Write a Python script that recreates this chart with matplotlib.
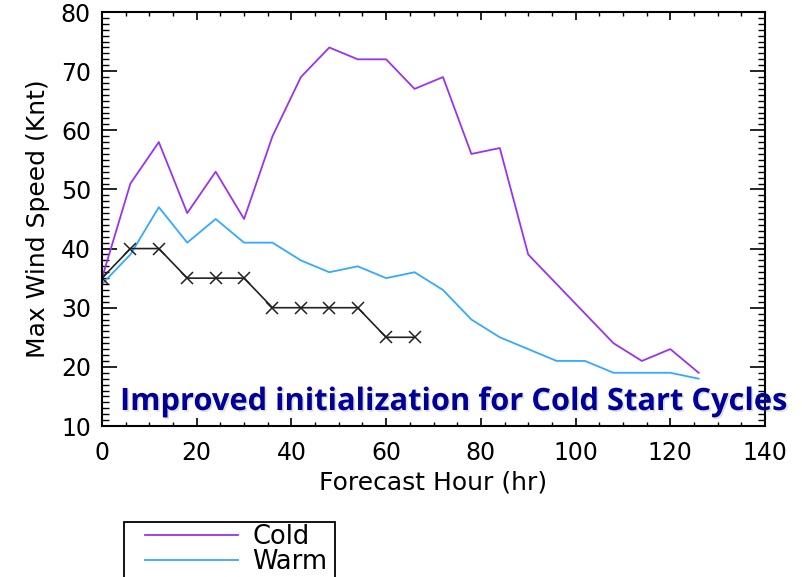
import matplotlib
matplotlib.use('Agg')
import matplotlib.pyplot as plt
import matplotlib.patheffects as pe
from matplotlib.patches import Rectangle
from matplotlib.ticker import MultipleLocator

# forecast hours and max wind speed (knots)
hours = [0, 6, 12, 18, 24, 30, 36, 42, 48, 54, 60, 66, 72, 78, 84, 90, 96, 102, 108, 114, 120, 126]
cold = [35, 51, 58, 46, 53, 45, 59, 69, 74, 72, 72, 67, 69, 56, 57, 39, 34, 29, 24, 21, 23, 19]
warm = [34, 39, 47, 41, 45, 41, 41, 38, 36, 37, 35, 36, 33, 28, 25, 23, 21, 21, 19, 19, 19, 18]
obs_hours = [0, 6, 12, 18, 24, 30, 36, 42, 48, 54, 60, 66]
obs = [35, 40, 40, 35, 35, 35, 30, 30, 30, 30, 25, 25]

plt.rcParams['font.family'] = ['DejaVu Sans']

fig = plt.figure(figsize=(8.02, 5.77), dpi=100)
ax = fig.add_axes([102 / 802, 1 - 426 / 577, 663 / 802, 414 / 577])

l_cold, = ax.plot(hours, cold, color='#9933ee', lw=1.3, label='Cold')
l_warm, = ax.plot(hours, warm, color='#33aaff', lw=1.3, label='Warm')
ax.plot(obs_hours, obs, color='#222222', lw=1.2, marker='x', ms=8, mew=1.1)

ax.set_xlim(0, 140)
ax.set_ylim(10, 80)
ax.xaxis.set_major_locator(MultipleLocator(20))
ax.xaxis.set_minor_locator(MultipleLocator(5))
ax.yaxis.set_major_locator(MultipleLocator(10))
ax.yaxis.set_minor_locator(MultipleLocator(1))
ax.tick_params(axis='both', which='both', direction='in', top=True, right=True, color='black')
ax.tick_params(axis='x', which='major', length=6, width=1.2, pad=11, labelsize=17)
ax.tick_params(axis='x', which='minor', length=3, width=1)
ax.tick_params(axis='y', which='major', length=11, width=1.2, pad=8, labelsize=17)
ax.tick_params(axis='y', which='minor', length=5, width=1)
for s in ax.spines.values():
    s.set_linewidth(1.5)

ax.set_xlabel('Forecast Hour (hr)', fontsize=18, labelpad=4)
ax.set_ylabel('Max Wind Speed (Knt)', fontsize=18, labelpad=8)

# overlay annotation
fig.text(120 / 802, 1 - 410 / 577, 'Improved initialization for Cold Start Cycles',
         family=['Open Sans', 'DejaVu Sans'], fontweight='bold', fontsize=22.2, color='#000099',
         va='baseline', ha='left',
         path_effects=[pe.SimplePatchShadow(offset=(1.2, -1.2), shadow_rgbFace='gray', alpha=0.25),
                       pe.Normal()])

# legend box, cut off by the bottom of the figure
box = Rectangle((124 / 802, 1 - 600 / 577), 211 / 802, 78 / 577, transform=fig.transFigure,
                facecolor='white', edgecolor='black', lw=1.3, clip_on=False)
fig.patches.append(box)
leg = fig.legend([l_cold, l_warm], ['Cold', 'Warm'], loc='upper left',
                 bbox_to_anchor=(145 / 802, 1 - 524 / 577), fontsize=18.5,
                 frameon=False, handlelength=3.6, handletextpad=0.58, labelspacing=-0.03,
                 borderpad=0, borderaxespad=0)

fig.savefig('out.png', dpi=100)
